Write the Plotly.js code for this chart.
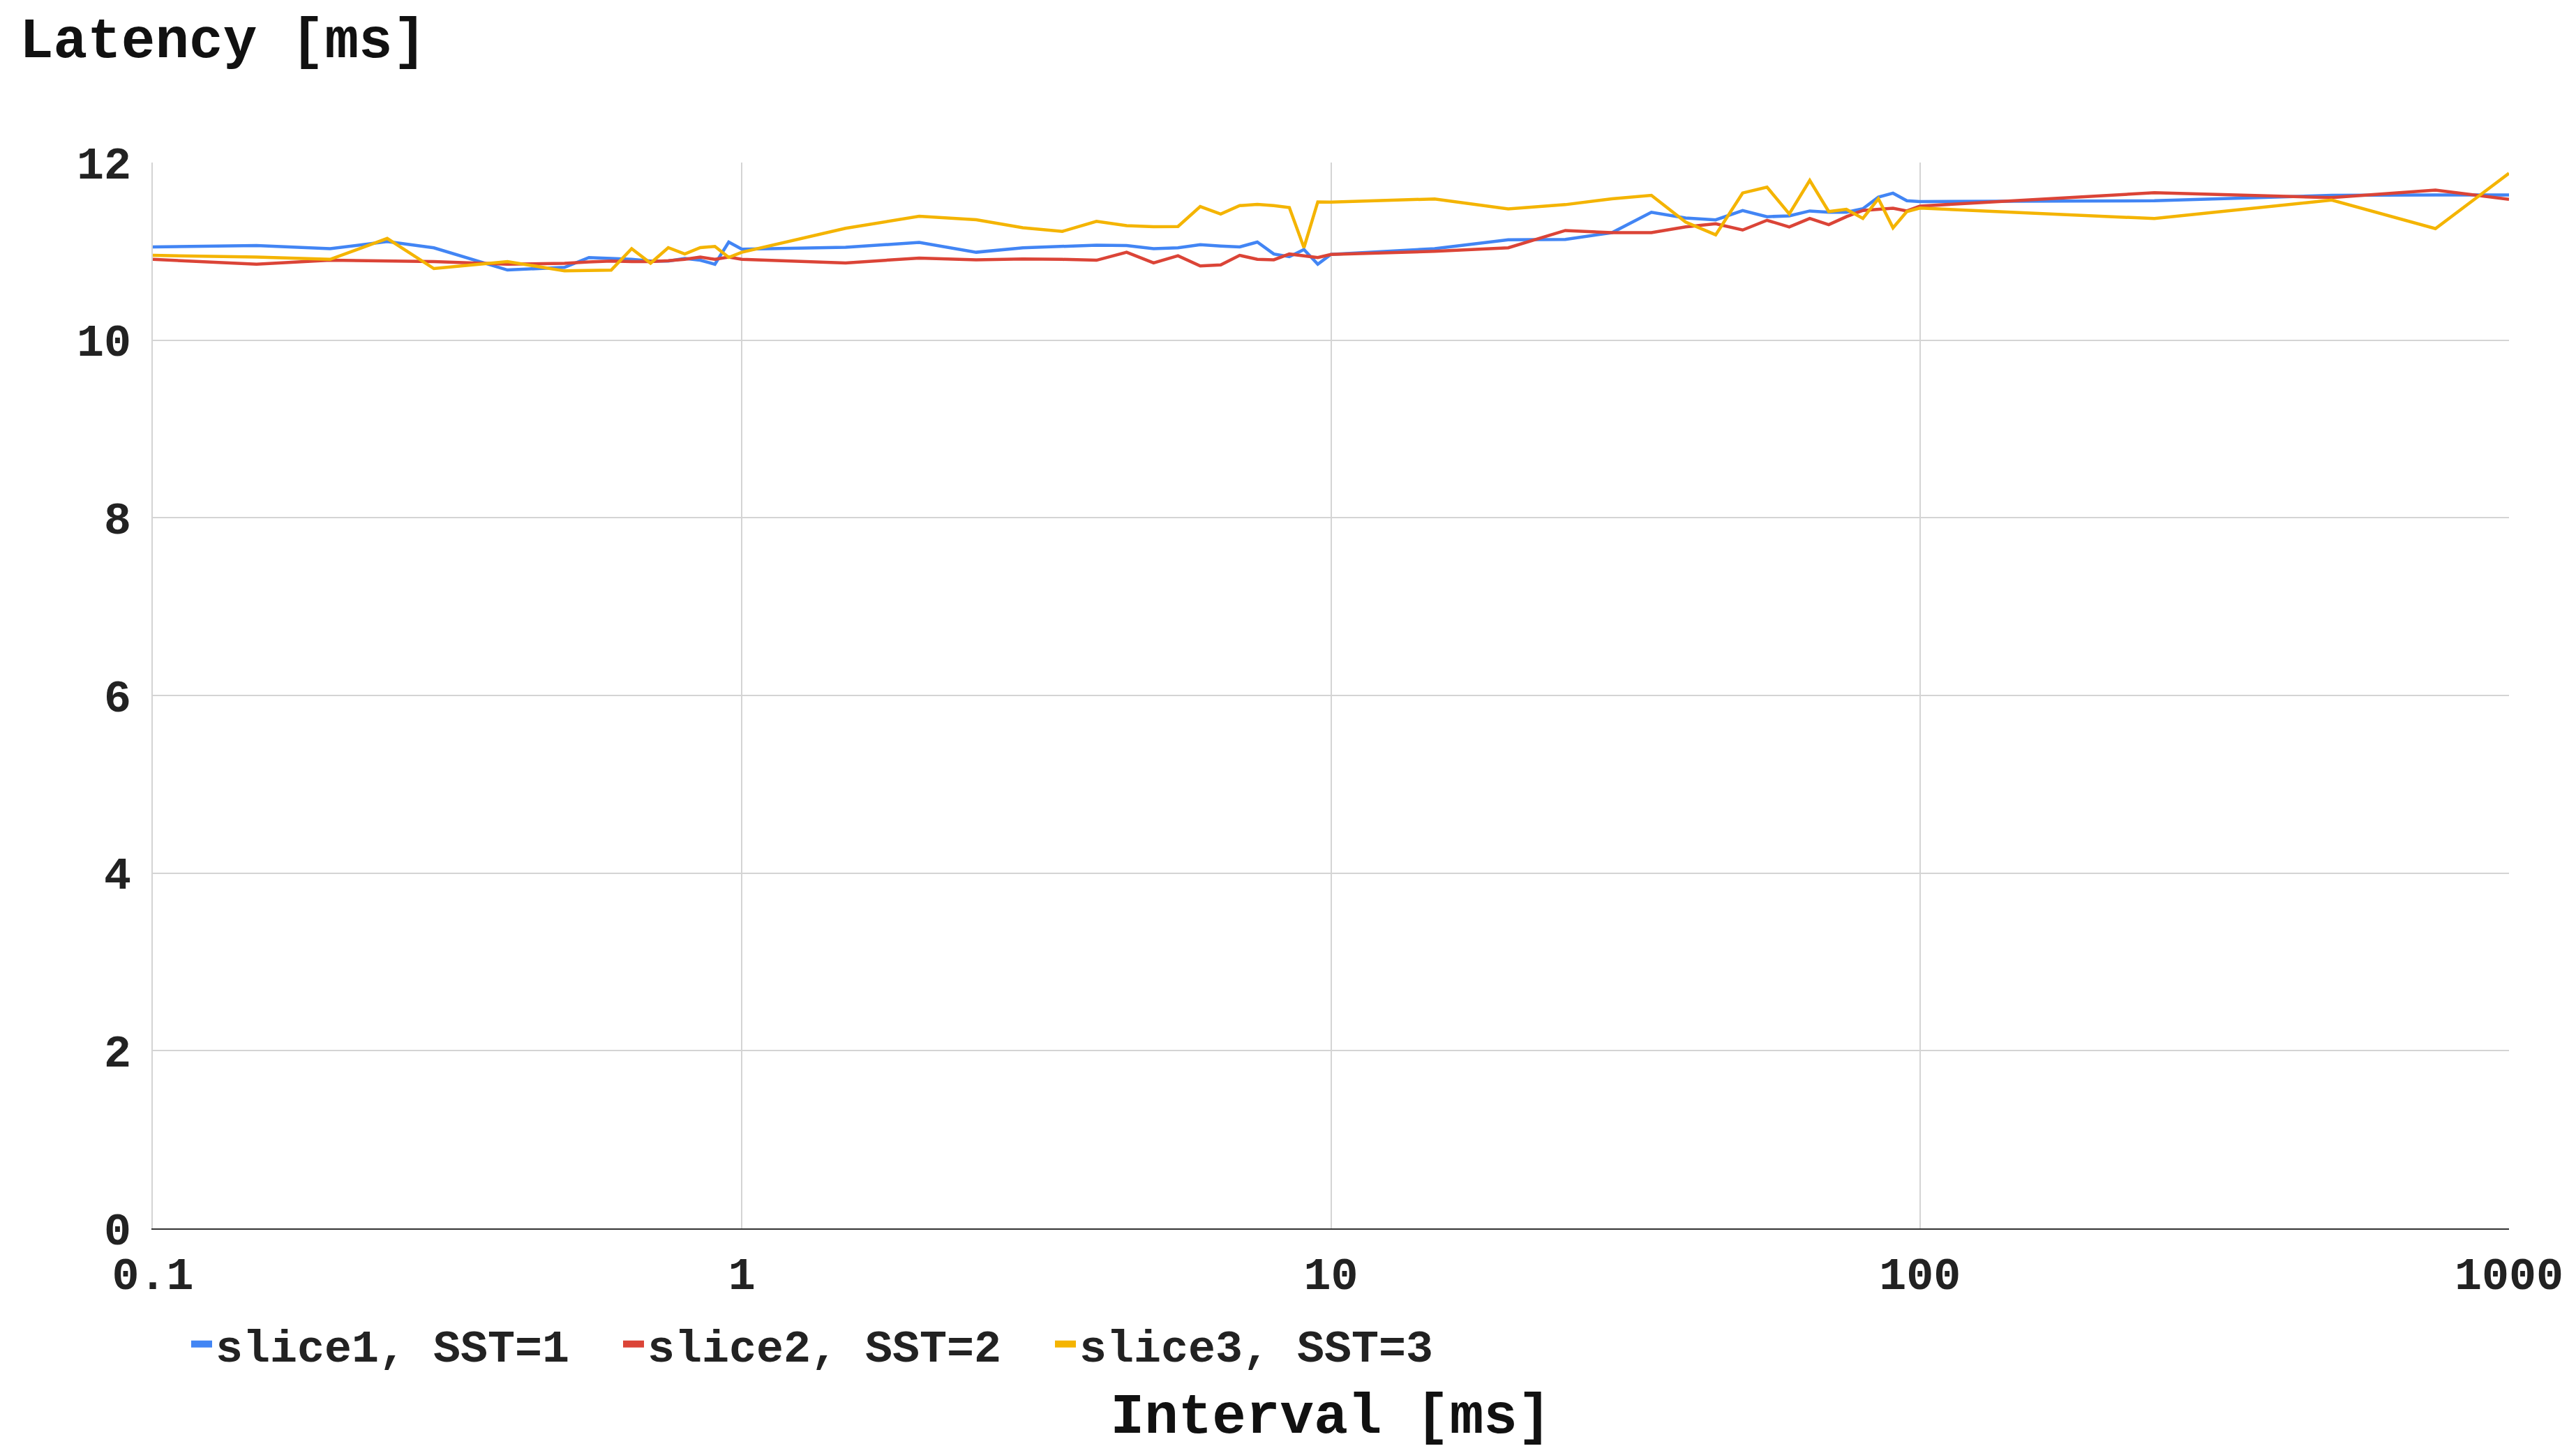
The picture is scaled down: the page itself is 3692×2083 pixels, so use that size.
<!DOCTYPE html>
<html>
<head>
<meta charset="utf-8">
<script src="https://cdn.plot.ly/plotly-3.0.1.min.js"></script>
<style>html,body{margin:0;padding:0;background:#fff;}#chart{width:3692px;height:2083px;}</style>
</head>
<body>
<div id="chart"></div>
<script>
const intervals = [0.1, 0.15, 0.2, 0.25, 0.3, 0.4, 0.5, 0.55, 0.6, 0.65, 0.7, 0.75, 0.8, 0.85, 0.9, 0.95,
  1, 1.5, 2, 2.5, 3, 3.5, 4, 4.5, 5, 5.5, 6, 6.5, 7, 7.5, 8, 8.5, 9, 9.5,
  10, 15, 20, 25, 30, 35, 40, 45, 50, 55, 60, 65, 70, 75, 80, 85, 90, 95,
  100, 250, 500, 750, 1000];

const slice1 = [11.05, 11.065, 11.03, 11.11, 11.04, 10.79, 10.82, 10.93, 10.92, 10.91, 10.89, 10.89, 10.92, 10.90, 10.855, 11.105,
  11.025, 11.045, 11.10, 10.99, 11.04, 11.06, 11.07, 11.065, 11.03, 11.04, 11.075, 11.06, 11.05, 11.105, 10.97, 10.94, 11.02, 10.855,
  10.965, 11.03, 11.13, 11.135, 11.21, 11.44, 11.375, 11.355, 11.46, 11.39, 11.40, 11.455, 11.44, 11.44, 11.48, 11.61, 11.655, 11.57,
  11.56, 11.57, 11.63, 11.635, 11.635];

const slice2 = [10.91, 10.855, 10.90, 10.895, 10.885, 10.855, 10.865, 10.88, 10.89, 10.885, 10.885, 10.895, 10.91, 10.935, 10.91, 10.935,
  10.91, 10.87, 10.925, 10.905, 10.915, 10.91, 10.90, 10.99, 10.87, 10.95, 10.835, 10.848, 10.955, 10.91, 10.905, 10.97, 10.95, 10.93,
  10.965, 11.00, 11.04, 11.235, 11.21, 11.21, 11.275, 11.31, 11.24, 11.35, 11.275, 11.37, 11.30, 11.39, 11.46, 11.475, 11.485, 11.455,
  11.51, 11.66, 11.605, 11.69, 11.585];

const slice3 = [10.955, 10.935, 10.91, 11.145, 10.806, 10.885, 10.78, 10.785, 10.788, 11.03, 10.867, 11.042, 10.971, 11.042, 11.055, 10.932,
  10.99, 11.26, 11.395, 11.356, 11.265, 11.225, 11.338, 11.29, 11.277, 11.28, 11.505, 11.42, 11.515, 11.528, 11.515, 11.493, 11.042, 11.557,
  11.555, 11.59, 11.478, 11.526, 11.592, 11.631, 11.33, 11.186, 11.657, 11.723, 11.422, 11.80, 11.448, 11.474, 11.37, 11.592, 11.265, 11.448,
  11.487, 11.369, 11.578, 11.256, 11.879];

const seriesNames = ["slice1, SST=1", "slice2, SST=2", "slice3, SST=3"];
const seriesColors = ["#4285F4", "#DB4437", "#F4B400"];
const xTickVals = [0.1, 1, 10, 100, 1000];
const xTickText = ["0.1", "1", "10", "100", "1000"];
const yTickVals = [0, 2, 4, 6, 8, 10, 12];

const FONT = '"Courier New", "Liberation Mono", "DejaVu Sans Mono", monospace';
const allSeries = [slice1, slice2, slice3];

const traces = [];
allSeries.forEach((ys, i) => {
  traces.push({
    type: 'scatter', mode: 'lines', x: intervals, y: ys,
    name: seriesNames[i], showlegend: false,
    line: {color: seriesColors[i], width: 4.5}
  });
});
// legend-only entries with thick short swatches
allSeries.forEach((ys, i) => {
  traces.push({
    type: 'scatter', mode: 'lines', x: [null], y: [null],
    name: seriesNames[i], showlegend: true,
    line: {color: seriesColors[i], width: 12}
  });
});

const layout = {
  width: 3692, height: 2083,
  paper_bgcolor: '#ffffff', plot_bgcolor: '#ffffff',
  margin: {l: 219, r: 96, t: 233, b: 322, pad: 0},
  font: {family: FONT, size: 65, color: '#222222', weight: 'bold'},
  title: {
    text: 'Latency [ms]',
    font: {family: FONT, size: 81, color: '#111111', weight: 'bold'},
    xref: 'container', yref: 'container',
    x: 28 / 3692, xanchor: 'left',
    y: 1 - 54 / 2083, yanchor: 'middle'
  },
  xaxis: {
    type: 'log', range: [-1, 3],
    tickvals: xTickVals, ticktext: xTickText,
    showgrid: true, gridcolor: '#d4d4d4', gridwidth: 2,
    showline: true, linecolor: '#333333', linewidth: 2,
    ticks: '', ticklabelstandoff: 7,
    tickfont: {family: FONT, size: 65, color: '#222222', weight: 'bold'},
    title: {
      text: 'Interval [ms]', standoff: 130,
      font: {family: FONT, size: 81, color: '#111111', weight: 'bold'}
    }
  },
  yaxis: {
    range: [0, 12], tickvals: yTickVals,
    showgrid: true, gridcolor: '#d4d4d4', gridwidth: 2,
    zeroline: false, showline: true, linecolor: '#d4d4d4', linewidth: 2,
    ticks: '', ticklabelstandoff: 16,
    tickfont: {family: FONT, size: 65, color: '#222222', weight: 'bold'}
  },
  legend: {
    orientation: 'h', x: (269 - 219) / 3377, xanchor: 'left',
    y: (1761 - 1927) / 1528, yanchor: 'middle',
    font: {family: FONT, size: 65, color: '#222222', weight: 'bold'},
    itemwidth: 30, entrywidth: 574, traceorder: 'normal',
    bgcolor: 'rgba(0,0,0,0)'
  },
  showlegend: true
};

Plotly.newPlot('chart', traces, layout, {staticPlot: true, displayModeBar: false});
</script>
</body>
</html>
